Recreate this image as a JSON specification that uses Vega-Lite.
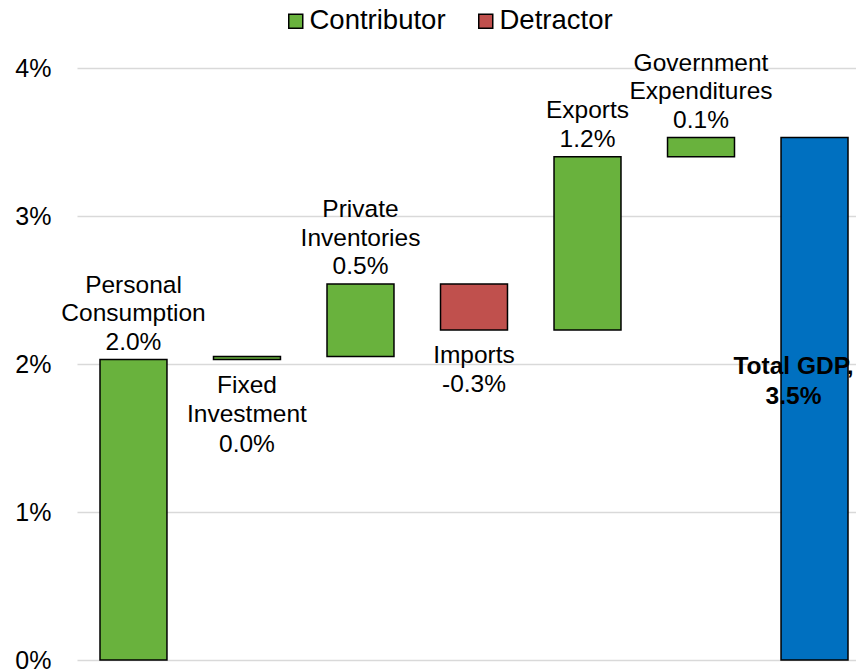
{
  "$schema": "https://vega.github.io/schema/vega-lite/v6.json",
  "width": 779,
  "height": 592,
  "autosize": {"type": "none"},
  "padding": {"left": 77, "top": 68, "right": 0, "bottom": 12},
  "background": "white",
  "config": {
    "view": {"stroke": null},
    "font": "Liberation Sans"
  },
  "data": {
    "values": [
      {"cat": "Personal Consumption", "start": 0, "end": 2.03, "type": "Contributor", "label": "Personal\nConsumption\n2.0%"},
      {"cat": "Fixed Investment", "start": 2.03, "end": 2.05, "type": "Contributor", "label": "Fixed\nInvestment\n0.0%"},
      {"cat": "Private Inventories", "start": 2.05, "end": 2.54, "type": "Contributor", "label": "Private\nInventories\n0.5%"},
      {"cat": "Imports", "start": 2.54, "end": 2.23, "type": "Detractor", "label": "Imports\n-0.3%"},
      {"cat": "Exports", "start": 2.23, "end": 3.4, "type": "Contributor", "label": "Exports\n1.2%"},
      {"cat": "Government Expenditures", "start": 3.4, "end": 3.53, "type": "Contributor", "label": "Government\nExpenditures\n0.1%"},
      {"cat": "Total GDP", "start": 0, "end": 3.53, "type": "Total", "label": "Total GDP,\n3.5%"}
    ]
  },
  "encoding": {
    "x": {
      "field": "cat",
      "type": "nominal",
      "sort": null,
      "axis": null,
      "scale": {"range": [0, 794], "paddingInner": 0.41, "paddingOuter": 0.2026}
    }
  },
  "layer": [
    {
      "mark": {"type": "bar", "stroke": "black", "strokeWidth": 1.5},
      "encoding": {
        "y": {
          "field": "start",
          "type": "quantitative",
          "scale": {"domain": [0, 4], "nice": false},
          "axis": {
            "values": [0, 1, 2, 3, 4],
            "labelExpr": "datum.value + '%'",
            "grid": true,
            "gridColor": "#D9D9D9",
            "gridWidth": 1.5,
            "domain": false,
            "ticks": false,
            "labelPadding": 26,
            "labelFontSize": 25,
            "labelColor": "black",
            "labelFont": "Liberation Sans",
            "title": null
          }
        },
        "y2": {"field": "end"},
        "color": {
          "field": "type",
          "type": "nominal",
          "scale": {"domain": ["Contributor", "Detractor", "Total"], "range": ["#69B23D", "#C0504D", "#0070C0"]},
          "legend": {
            "title": null,
            "orient": "none",
            "legendX": 205,
            "legendY": -61,
            "direction": "horizontal",
            "values": ["Contributor", "Detractor"],
            "symbolType": "square",
            "symbolSize": 196,
            "symbolStrokeColor": "black",
            "symbolStrokeWidth": 1.5,
            "symbolOpacity": 1,
            "labelFontSize": 27.5,
            "labelFont": "Liberation Sans",
            "labelColor": "black",
            "labelOffset": 0,
            "columnPadding": 26,
            "padding": 0,
            "labelLimit": 300
          }
        }
      }
    },
    {
      "transform": [{"filter": "datum.type == 'Contributor' && datum.cat != 'Fixed Investment' && datum.cat != 'Exports'"}],
      "mark": {"type": "text", "baseline": "bottom", "align": "center", "dy": -62, "fontSize": 24.5, "lineHeight": 28.5, "lineBreak": "\n", "color": "black", "font": "Liberation Sans"},
      "encoding": {
        "y": {"field": "end", "type": "quantitative"},
        "text": {"field": "label"}
      }
    },
    {
      "transform": [{"filter": "datum.cat == 'Exports'"}],
      "mark": {"type": "text", "baseline": "bottom", "align": "center", "dy": -33.5, "fontSize": 24.5, "lineHeight": 28.5, "lineBreak": "\n", "color": "black", "font": "Liberation Sans"},
      "encoding": {
        "y": {"field": "end", "type": "quantitative"},
        "text": {"field": "label"}
      }
    },
    {
      "transform": [{"filter": "datum.cat == 'Fixed Investment'"}],
      "mark": {"type": "text", "baseline": "top", "align": "center", "dy": 14, "fontSize": 24.5, "lineHeight": 29.5, "lineBreak": "\n", "color": "black", "font": "Liberation Sans"},
      "encoding": {
        "y": {"field": "start", "type": "quantitative"},
        "text": {"field": "label"}
      }
    },
    {
      "transform": [{"filter": "datum.type == 'Detractor'"}],
      "mark": {"type": "text", "baseline": "top", "align": "center", "dy": 14, "fontSize": 24.5, "lineHeight": 29.5, "lineBreak": "\n", "color": "black", "font": "Liberation Sans"},
      "encoding": {
        "y": {"field": "end", "type": "quantitative"},
        "text": {"field": "label"}
      }
    },
    {
      "transform": [{"filter": "datum.type == 'Total'"}],
      "mark": {"type": "text", "baseline": "alphabetic", "align": "center", "dx": -21, "dy": 236, "fontSize": 24.5, "fontWeight": "bold", "lineHeight": 30, "lineBreak": "\n", "color": "black", "font": "Liberation Sans"},
      "encoding": {
        "y": {"field": "end", "type": "quantitative"},
        "text": {"field": "label"}
      }
    }
  ]
}
